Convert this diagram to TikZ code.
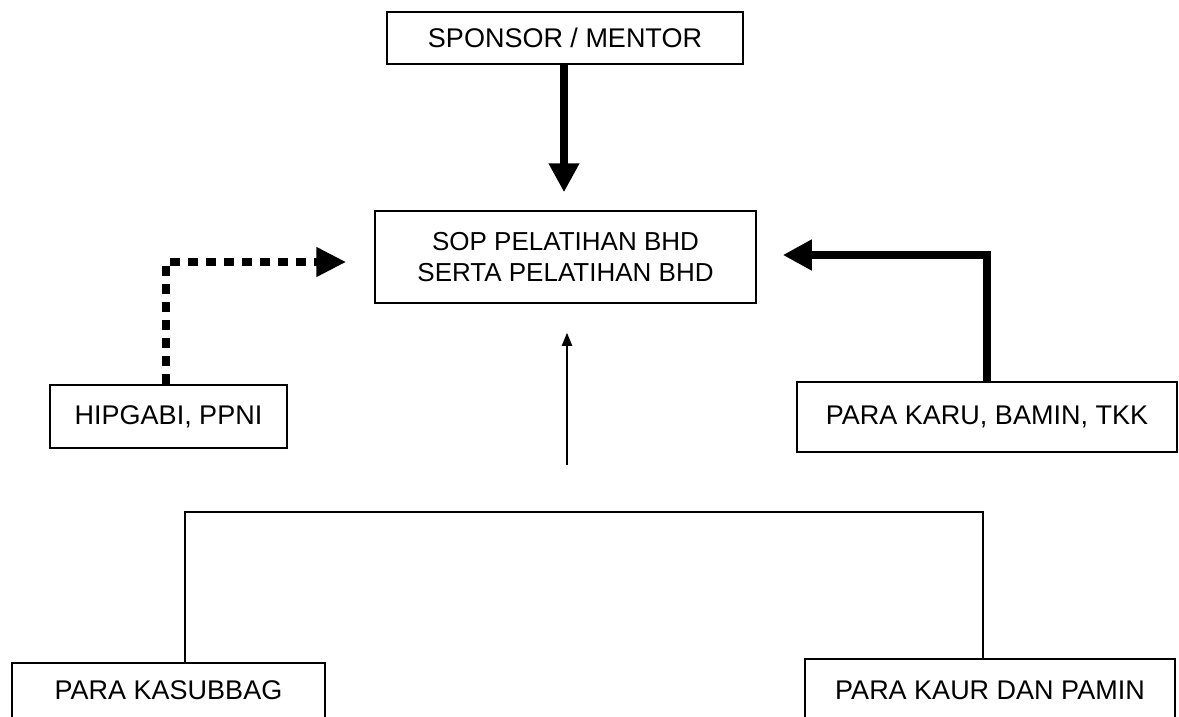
\documentclass[tikz,border=0pt]{standalone}
\usepackage{fontspec}
\setmainfont{Liberation Sans}
\usetikzlibrary{arrows.meta}
\begin{document}
\begin{tikzpicture}[x=1pt,y=-1pt,
  box/.style={draw=black,line width=1.5pt,inner sep=0pt,align=center,
    font=\fontsize{27}{31}\selectfont},
  thickarrow/.style={line width=8pt,-{Triangle[length=29pt,width=29pt]}},
  dotarrow/.style={line width=8.5pt,dash pattern=on 10pt off 8pt,
    -{Triangle[length=30pt,width=28pt]}},
  thinarrow/.style={line width=2pt,-{Triangle[length=13pt,width=10pt]}},
  barline/.style={line width=1.8pt}]
\useasboundingbox (0,0) rectangle (1179,717);
\clip (0,0) rectangle (1179,717);
\fill[white] (0,0) rectangle (1179,717);
\node[box,minimum width=356pt,minimum height=52pt] (spon) at (565,38) {SPONSOR / MENTOR};
\node[box,minimum width=381pt,minimum height=92pt,
  font=\fontsize{26}{31}\selectfont] (sop) at (565.5,257) {SOP PELATIHAN BHD\\SERTA PELATIHAN BHD};
\node[box,minimum width=237pt,minimum height=63pt] (hip) at (168.5,416.5) {HIPGABI, PPNI};
\node[box,minimum width=380pt,minimum height=70pt] (karu) at (987,417) {PARA KARU, BAMIN, TKK};
\node[box,anchor=north,minimum width=313pt,text height=37pt,text depth=40pt] (kas) at (168.5,662) {PARA KASUBBAG};
\node[box,anchor=north,minimum width=370pt,text height=41pt,text depth=40pt] (kaur) at (990,658) {PARA KAUR DAN PAMIN};
% arrows
\draw[thickarrow,shorten >=18pt] ([xshift=-1pt]spon.south) -- ([xshift=-1pt]spon.south |- sop.north);
\draw[dotarrow,shorten >=28pt] ([xshift=-2.5pt]hip.north) |- ([yshift=-5pt]sop.west);
\draw[thickarrow,shorten >=26pt] (karu.north) |- ([yshift=2pt]sop.east);
\coordinate (tail) at (567,465);
\draw[thinarrow,shorten >=29pt] (tail) -- (tail |- sop.south);
% bracket
\coordinate (barL) at (185,512);
\coordinate (barR) at (983,512);
\draw[barline] (barL |- kas.north) -- (barL) -- (barR) -- (barR |- kaur.north);
\end{tikzpicture}
\end{document}
